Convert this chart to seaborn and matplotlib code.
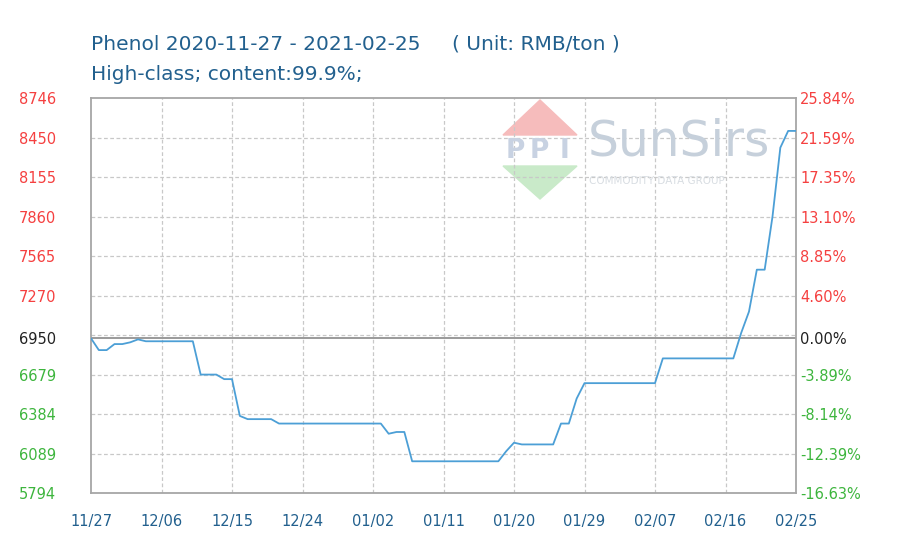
import matplotlib

matplotlib.use("Agg")
import matplotlib.dates as mdates
import pandas as pd
import seaborn as sns
from matplotlib import pyplot as plt
from matplotlib.patches import Polygon

# price points (only where the curve changes)
DATES = [
    "2020-11-27", "2020-11-28", "2020-11-29", "2020-11-30", "2020-12-01",
    "2020-12-02", "2020-12-03", "2020-12-04", "2020-12-10", "2020-12-11",
    "2020-12-13", "2020-12-14", "2020-12-15", "2020-12-16", "2020-12-17",
    "2020-12-20", "2020-12-21", "2021-01-03", "2021-01-04", "2021-01-05",
    "2021-01-06", "2021-01-07", "2021-01-18", "2021-01-19", "2021-01-20",
    "2021-01-21", "2021-01-25", "2021-01-26", "2021-01-27", "2021-01-28",
    "2021-01-29", "2021-02-07", "2021-02-08", "2021-02-17", "2021-02-18",
    "2021-02-19", "2021-02-20", "2021-02-21", "2021-02-22", "2021-02-23",
    "2021-02-24", "2021-02-25",
]
PRICES = [
    6950, 6862, 6862, 6907, 6907,
    6920, 6942, 6928, 6928, 6679,
    6679, 6645, 6645, 6370, 6346,
    6346, 6313, 6313, 6237, 6250,
    6250, 6031, 6031, 6106, 6170,
    6157, 6157, 6313, 6313, 6500,
    6615, 6615, 6800, 6800, 6990,
    7150, 7463, 7463, 7860, 8375,
    8500, 8500,
]

BASE_PRICE = 6950
Y_TICKS = [5794, 6089, 6384, 6679, 6950, 7270, 7565, 7860, 8155, 8450, 8746]
PCT_LABELS = ["-16.63%", "-12.39%", "-8.14%", "-3.89%", "0.00%", "4.60%",
              "8.85%", "13.10%", "17.35%", "21.59%", "25.84%"]
X_TICKS = ["2020-11-27", "2020-12-06", "2020-12-15", "2020-12-24", "2021-01-02",
           "2021-01-11", "2021-01-20", "2021-01-29", "2021-02-07", "2021-02-16",
           "2021-02-25"]

TITLE = "Phenol 2020-11-27 - 2021-02-25"
UNIT = "( Unit: RMB/ton )"
SUBTITLE = "High-class; content:99.9%;"

LINE_COLOR = "#4c9fd6"
TEXT_BLUE = "#22608e"
UP_RED = "#f54040"
DOWN_GREEN = "#3db53d"
FRAME = "#a6a6a6"

sns.set_style("white")
plt.rcParams["font.family"] = ["DejaVu Sans"]

df = pd.DataFrame({"date": pd.to_datetime(DATES), "price": PRICES})
x_ticks = pd.to_datetime(X_TICKS)

fig = plt.figure(figsize=(9, 5.56), dpi=100)
ax = fig.add_axes([91 / 900, 1 - 493 / 556, (796 - 91) / 900, (493 - 98) / 556])

sns.lineplot(data=df, x="date", y="price", color=LINE_COLOR, linewidth=1.3, ax=ax, zorder=3)

ax.set_xlim(x_ticks[0], x_ticks[-1])
ax.set_ylim(Y_TICKS[0], Y_TICKS[-1])
ax.set_xlabel("")
ax.set_ylabel("")

# grid
ax.set_axisbelow(True)
for t in x_ticks[1:-1]:
    ax.axvline(t, color="#c8c8c8", linestyle=(0, (3, 2)), linewidth=0.9, zorder=1)
for v in Y_TICKS[1:-1]:
    if v == BASE_PRICE:
        continue
    ax.axhline(v, color="#c8c8c8", linestyle=(0, (3, 2)), linewidth=0.9, zorder=1)
ax.axhline(6975, color="#c8c8c8", linestyle=(0, (3, 2)), linewidth=0.9, zorder=1)
ax.axhline(BASE_PRICE, color="#9a9a9a", linewidth=1.4, zorder=2)

for spine in ax.spines.values():
    spine.set_color(FRAME)
    spine.set_linewidth(1.3)

ax.set_xticks(x_ticks)
ax.xaxis.set_major_formatter(mdates.DateFormatter("%m/%d"))
ax.tick_params(axis="x", length=0, pad=15, labelsize=10.5, labelcolor=TEXT_BLUE)

ax.set_yticks(Y_TICKS)
ax.set_yticklabels([str(v) for v in Y_TICKS])
ax.tick_params(axis="y", length=0, pad=25, labelsize=10.5)


def level_color(v):
    if v > BASE_PRICE:
        return UP_RED
    if v < BASE_PRICE:
        return DOWN_GREEN
    return "#222222"


for lbl, v in zip(ax.get_yticklabels(), Y_TICKS):
    lbl.set_color(level_color(v))

ax2 = ax.twinx()
ax2.set_ylim(ax.get_ylim())
ax2.set_yticks(Y_TICKS)
ax2.set_yticklabels(PCT_LABELS)
ax2.tick_params(axis="y", length=0, pad=3, labelsize=10.5)
for lbl, v in zip(ax2.get_yticklabels(), Y_TICKS):
    lbl.set_color(level_color(v))
for spine in ax2.spines.values():
    spine.set_visible(False)

# titles
fig.text(91 / 900, 1 - 44 / 556, TITLE, color=TEXT_BLUE, fontsize=14.5, va="center")
fig.text(452 / 900, 1 - 44 / 556, UNIT, color=TEXT_BLUE, fontsize=14.5, va="center")
fig.text(91 / 900, 1 - 74 / 556, SUBTITLE, color=TEXT_BLUE, fontsize=14.5, va="center")


# watermark logo
def px(x, y):
    return (x / 900, 1 - y / 556)


ax.add_patch(Polygon([px(503, 135), px(577, 135), px(540, 100)], closed=True,
                     transform=fig.transFigure, color="#f6bcbc", zorder=0.2, clip_on=False))
ax.add_patch(Polygon([px(503, 166), px(577, 166), px(540, 199)], closed=True,
                     transform=fig.transFigure, color="#c9eac9", zorder=0.2, clip_on=False))
for xp, ch in [(515, "P"), (539, "P"), (564, "I")]:
    fig.text(*px(xp, 151), ch, color="#c8d2e2", fontsize=19, fontweight="bold",
             ha="center", va="center", zorder=0.2)
fig.text(*px(588, 141), "SunSirs", color="#c6d0db", fontsize=35, ha="left", va="center")
fig.text(*px(589, 181), "COMMODITY DATA GROUP", color="#d8dde2", fontsize=7.5,
         ha="left", va="center")

fig.savefig("out.png", dpi=100)
